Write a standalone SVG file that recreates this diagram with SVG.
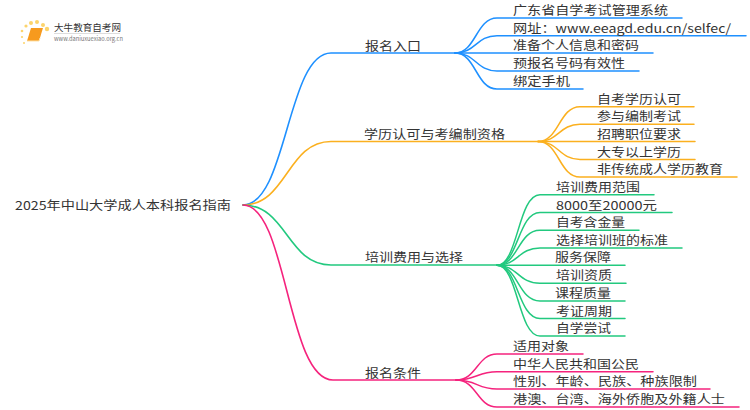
<svg xmlns="http://www.w3.org/2000/svg" width="750" height="410" viewBox="0 0 750 410">
<style>
text{font-family:"Noto Sans CJK SC","Noto Sans",sans-serif;font-size:12px;fill:#333}
.c{fill:none;stroke-width:1.5;stroke-linecap:round}
.b{stroke:#1e90ff}.o{stroke:#fbb01f}.g{stroke:#22c97f}.p{stroke:#f5237d}
.m{stroke-width:1.6}
</style>
<rect width="750" height="410" fill="#fff"/>
<g id="logo">
<g fill="#fcd46c"><circle cx="47" cy="29" r="2.2"/><circle cx="43" cy="25" r="2"/><circle cx="37" cy="22" r="2"/><circle cx="31" cy="23" r="2"/><circle cx="26" cy="26" r="1.6"/><circle cx="22" cy="31" r="1.3"/><circle cx="22" cy="37" r="1.1"/><circle cx="24" cy="43" r="1"/></g>
<path d="M31 28H43L39 41H27Z" fill="#f79a1e"/>
<path d="M27 41H39L40 38" fill="none" stroke="#fde2a8" stroke-width="1"/>
<text x="54" y="31" textLength="67" lengthAdjust="spacingAndGlyphs" style="font-size:9.500px">大牛教育自考网</text>
<rect x="54" y="33" width="66" height="1" fill="#ddd"/>
<text x="54" y="41" textLength="69" lengthAdjust="spacingAndGlyphs" style="font-size:6px;fill:#777">www.daniuxuexiao.org.cn</text>
</g>
<g id="connectors">
<path class="c b m" d="M243 205C287 205 287 53 331 53H455"/>
<path class="c o m" d="M243 205C287 205 287 141.500 331 141.500H538"/>
<path class="c g m" d="M243 205C287 205 287 265 331 265H497"/>
<path class="c p m" d="M243 205C287 205 287 380 333 380H456"/>
<path class="c b" d="M455 53C476 53 476 18 497 18H682"/>
<path class="c b" d="M455 53C476 53 476 35.700 497 35.700H746"/>
<path class="c b" d="M455 53H653"/>
<path class="c b" d="M455 53C476 53 476 71 497 71H639"/>
<path class="c b" d="M455 53C476 53 476 89 497 89H583"/>
<path class="c o" d="M538 141.500C559 141.500 559 106.700 580 106.700H694"/>
<path class="c o" d="M538 141.500C559 141.500 559 124.300 580 124.300H694"/>
<path class="c o" d="M538 141.500H695"/>
<path class="c o" d="M538 141.500C559 141.500 559 159.500 580 159.500H695"/>
<path class="c o" d="M538 141.500C559 141.500 559 177 580 177H737"/>
<path class="c g" d="M497 265.300C518 265.300 518 194.700 540 194.700H654"/>
<path class="c g" d="M497 265.300C518 265.300 518 212.500 540 212.500H672"/>
<path class="c g" d="M497 265.300C518 265.300 518 230.300 540 230.300H639"/>
<path class="c g" d="M497 265.300C518 265.300 518 248 540 248H682"/>
<path class="c g" d="M497 265.300H625"/>
<path class="c g" d="M497 265.300C518 265.300 518 283.300 540 283.300H626"/>
<path class="c g" d="M497 265.300C518 265.300 518 301 540 301H625"/>
<path class="c g" d="M497 265.300C518 265.300 518 318.500 540 318.500H625"/>
<path class="c g" d="M497 265.300C518 265.300 518 336 540 336H625"/>
<path class="c p" d="M456 380C477 380 477 354 497 354H583"/>
<path class="c p" d="M456 380C477 380 477 371.700 497 371.700H653"/>
<path class="c p" d="M456 380C477 380 477 389 497 389H710"/>
<path class="c p" d="M456 380C477 380 477 407 497 407H739"/>
</g>
<g id="root"><text x="15" y="209.500" textLength="216" lengthAdjust="spacingAndGlyphs">2025年中山大学成人本科报名指南</text></g>
<g id="b1"><text x="365" y="50.500" textLength="56" lengthAdjust="spacingAndGlyphs">报名入口</text></g>
<g id="n1-1"><text x="513" y="15" textLength="155" lengthAdjust="spacingAndGlyphs">广东省自学考试管理系统</text></g>
<g id="n1-2"><text x="513" y="32.500" textLength="218" lengthAdjust="spacingAndGlyphs">网址：www.eeagd.edu.cn/selfec/</text></g>
<g id="n1-3"><text x="513" y="50" textLength="126" lengthAdjust="spacingAndGlyphs">准备个人信息和密码</text></g>
<g id="n1-4"><text x="513" y="68" textLength="112" lengthAdjust="spacingAndGlyphs">预报名号码有效性</text></g>
<g id="n1-5"><text x="513" y="85.500" textLength="57" lengthAdjust="spacingAndGlyphs">绑定手机</text></g>
<g id="b2"><text x="364" y="138.500" textLength="141" lengthAdjust="spacingAndGlyphs">学历认可与考编制资格</text></g>
<g id="n2-1"><text x="597" y="103.500" textLength="84" lengthAdjust="spacingAndGlyphs">自考学历认可</text></g>
<g id="n2-2"><text x="597" y="121" textLength="84" lengthAdjust="spacingAndGlyphs">参与编制考试</text></g>
<g id="n2-3"><text x="597" y="138.500" textLength="84" lengthAdjust="spacingAndGlyphs">招聘职位要求</text></g>
<g id="n2-4"><text x="597" y="156.500" textLength="84" lengthAdjust="spacingAndGlyphs">大专以上学历</text></g>
<g id="n2-5"><text x="597" y="174" textLength="126" lengthAdjust="spacingAndGlyphs">非传统成人学历教育</text></g>
<g id="b3"><text x="365" y="262" textLength="98" lengthAdjust="spacingAndGlyphs">培训费用与选择</text></g>
<g id="n3-1"><text x="556" y="191.500" textLength="84" lengthAdjust="spacingAndGlyphs">培训费用范围</text></g>
<g id="n3-2"><text x="556" y="209.500" textLength="101" lengthAdjust="spacingAndGlyphs">8000至20000元</text></g>
<g id="n3-3"><text x="556" y="227" textLength="69" lengthAdjust="spacingAndGlyphs">自考含金量</text></g>
<g id="n3-4"><text x="556" y="245" textLength="112" lengthAdjust="spacingAndGlyphs">选择培训班的标准</text></g>
<g id="n3-5"><text x="555" y="262" textLength="56" lengthAdjust="spacingAndGlyphs">服务保障</text></g>
<g id="n3-6"><text x="556" y="280" textLength="56" lengthAdjust="spacingAndGlyphs">培训资质</text></g>
<g id="n3-7"><text x="555" y="298" textLength="56" lengthAdjust="spacingAndGlyphs">课程质量</text></g>
<g id="n3-8"><text x="556" y="315.500" textLength="56" lengthAdjust="spacingAndGlyphs">考证周期</text></g>
<g id="n3-9"><text x="556" y="333" textLength="55" lengthAdjust="spacingAndGlyphs">自学尝试</text></g>
<g id="b4"><text x="365" y="377.500" textLength="56" lengthAdjust="spacingAndGlyphs">报名条件</text></g>
<g id="n4-1"><text x="513" y="351" textLength="56" lengthAdjust="spacingAndGlyphs">适用对象</text></g>
<g id="n4-2"><text x="513" y="368.500" textLength="126" lengthAdjust="spacingAndGlyphs">中华人民共和国公民</text></g>
<g id="n4-3"><text x="513" y="386" textLength="184" lengthAdjust="spacingAndGlyphs">性别、年龄、民族、种族限制</text></g>
<g id="n4-4"><text x="513" y="404" textLength="212" lengthAdjust="spacingAndGlyphs">港澳、台湾、海外侨胞及外籍人士</text></g>
</svg>
